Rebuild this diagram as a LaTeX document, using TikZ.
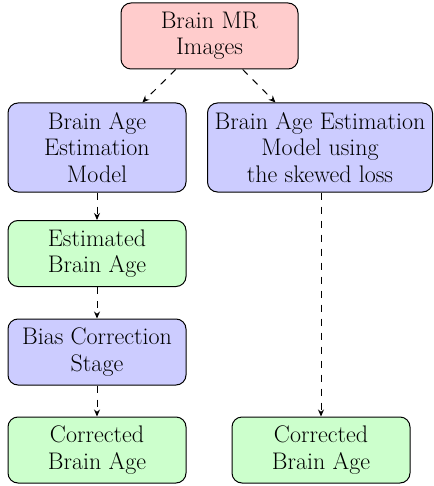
\documentclass[tikz,border=0pt]{standalone}
\usetikzlibrary{arrows.meta}
\begin{document}
\begin{tikzpicture}[x=1pt,y=-1pt,
  box/.style={draw, line width=1pt, rounded corners=10pt, align=center,
    inner sep=0pt, font=\rmfamily\fontsize{24}{26.3}\selectfont},
  two/.style={minimum height=66pt},
  three/.style={minimum height=89pt},
  flow/.style={dashed, dash pattern=on 7pt off 7pt, line width=1pt,
    -{Stealth[length=7pt,width=6pt]}}]
\useasboundingbox (0,0) rectangle (433,486);
\node[box, two, fill=red!20, minimum width=177pt] (mr) at (209.5,36) {Brain MR\\Images};
\node[box, three, fill=blue!20, minimum width=178pt] (bae) at (97,147.5) {Brain Age\\Estimation\\Model};
\node[box, three, fill=blue!20, minimum width=225pt] (baes) at (320,147.5) {Brain Age Estimation\\Model using\\the skewed loss};
\node[box, two, fill=green!20, minimum width=178pt] (eba) at (97,253.5) {Estimated\\Brain Age};
\node[box, two, fill=blue!20, minimum width=178pt] (bcs) at (97,352) {Bias Correction\\Stage};
\node[box, two, fill=green!20, minimum width=178pt] (cba1) at (97,450) {Corrected\\Brain Age};
\node[box, two, fill=green!20, minimum width=178pt] (cba2) at (321,450) {Corrected\\Brain Age};
\draw[flow] (mr) -- (bae);
\draw[flow] (mr) -- (baes);
\draw[flow] (bae) -- (eba);
\draw[flow] (eba) -- (bcs);
\draw[flow] (bcs) -- (cba1);
\draw[flow] (baes.south -| cba2.north) -- (cba2.north);
\end{tikzpicture}
\end{document}
